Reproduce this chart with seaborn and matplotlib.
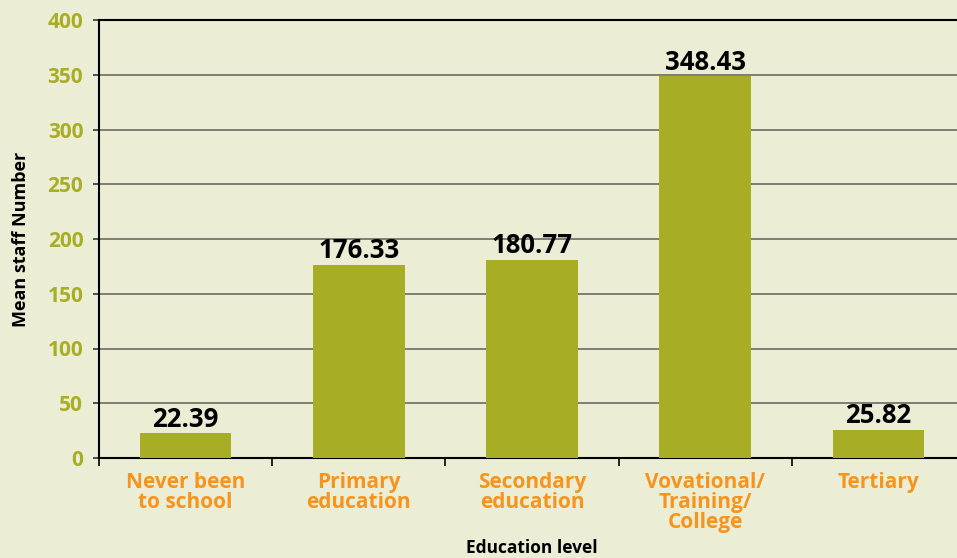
import matplotlib
matplotlib.use("Agg")
import matplotlib.pyplot as plt
import seaborn as sns
import pandas as pd
import numpy as np

categories = ["Never been\nto school", "Primary\neducation", "Secondary\neducation",
              "Vovational/\nTraining/\nCollege", "Tertiary"]
values = [22.39, 176.33, 180.77, 348.43, 25.82]
value_labels = ["22.39", "176.33", "180.77", "348.43", "25.82"]
y_ticks = [0, 50, 100, 150, 200, 250, 300, 350, 400]

BG = "#EBEED5"
BAR = "#A8AD26"
ORANGE = "#F7941D"

sns.set_theme(style="white")
plt.rcParams['font.family'] = ['Open Sans', 'DejaVu Sans']

df = pd.DataFrame({"cat": categories, "val": values})

fig = plt.figure(figsize=(9.57, 5.58), dpi=100, facecolor=BG)
ax = fig.add_axes([99/957, 1 - 458/558, 866/957, (458 - 20)/558])
ax.set_facecolor(BG)

sns.barplot(data=df, x="cat", y="val", color=BAR, width=0.53, saturation=1,
            edgecolor="none", linewidth=0, ax=ax, zorder=3)

ax.set_ylim(0, 400)
ax.set_xlim(-0.5, len(categories) - 0.5)
ax.set_yticks(y_ticks)
ax.set_yticklabels([str(t) for t in y_ticks], color=BAR, fontsize=15, fontweight="bold")
ax.yaxis.grid(True, color="#6b6b63", linewidth=1.2, zorder=0)
ax.set_axisbelow(True)

ax.set_xticks(range(len(categories)))
ax.set_xticklabels(categories, color=ORANGE, fontsize=15, fontweight="bold", linespacing=0.93)
ax.tick_params(axis="x", length=0, pad=10)
ax.set_xticks(np.arange(-0.5, len(categories), 1), minor=True)
ax.tick_params(axis="x", which="minor", length=6, width=1.2, color="black", direction="out", bottom=True)
ax.tick_params(axis="y", length=4.3, width=1.2, color="#333333", left=True, pad=7)

for s in ["top", "right"]:
    ax.spines[s].set_visible(False)
ax.spines["left"].set_color("black")
ax.spines["left"].set_linewidth(1.5)
ax.spines["bottom"].set_color("black")
ax.spines["bottom"].set_linewidth(1.5)
ax.axhline(400, color="black", linewidth=1.5, zorder=4, clip_on=False)

for i, (v, lab) in enumerate(zip(values, value_labels)):
    ax.text(i, v + 6, lab, ha="center", va="baseline", fontsize=18.5, fontweight="bold", color="black")

ax.set_xlabel("Education level", fontsize=12.5, fontweight="bold", color="black")
ax.set_ylabel("Mean staff Number", fontsize=13, fontweight="bold", color="black")
ax.xaxis.set_label_coords((532 - 99) / 866, -(539 - 458) / 438)
ax.yaxis.set_label_coords(-(99 - 30) / 866, 0.5)

fig.savefig("out.png", dpi=100, facecolor=BG)
